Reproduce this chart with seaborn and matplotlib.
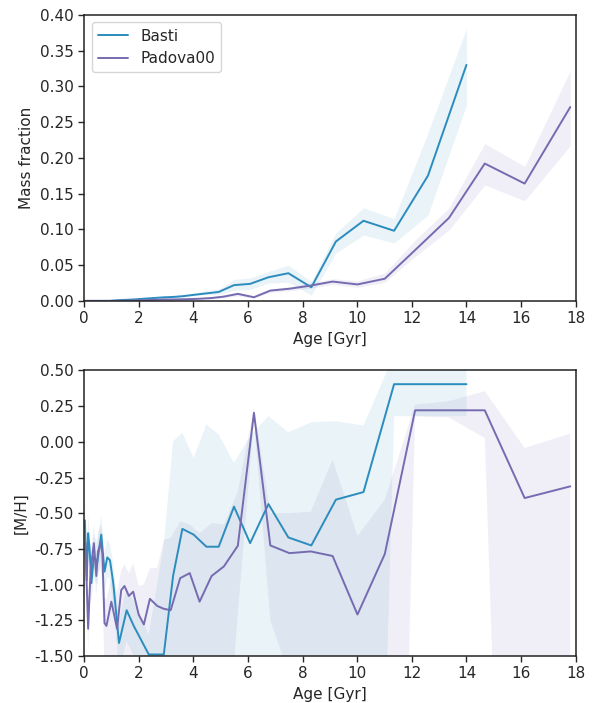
import numpy as np
import pandas as pd
import seaborn as sns
import matplotlib
matplotlib.use("Agg")
import matplotlib.pyplot as plt

sns.set_theme(style="ticks")
plt.rcParams['font.family'] = ['DejaVu Sans']

# ---- Basti: ages [Gyr], mass fraction and [M/H] with their bands
basti_age = [0.03, 0.10, 0.15, 0.20, 0.27, 0.36, 0.48, 0.63, 0.75, 0.85, 0.95, 1.07,
             1.28, 1.56, 1.82, 2.37, 2.92, 3.26, 3.60, 4.01, 4.48, 4.93, 5.49, 6.08,
             6.75, 7.48, 8.32, 9.22, 10.23, 11.35, 12.59, 14.00]
basti_mass = [0, 0, 0, 0, 0, 0, 0, 0, 0, 0, 0, 0.0005,
              0.001, 0.0015, 0.002, 0.0035, 0.005, 0.0055, 0.0065, 0.0084, 0.0105, 0.0125, 0.022, 0.0238,
              0.033, 0.0387, 0.019, 0.083, 0.112, 0.098, 0.175, 0.330]
basti_mass_hi = [0, 0, 0, 0, 0, 0, 0, 0, 0, 0, 0, 0.001,
                 0.0015, 0.002, 0.003, 0.0045, 0.0065, 0.0075, 0.0085, 0.011, 0.014, 0.016, 0.030, 0.032,
                 0.041, 0.050, 0.027, 0.095, 0.130, 0.115, 0.235, 0.381]
basti_mass_lo = [0, 0, 0, 0, 0, 0, 0, 0, 0, 0, 0, 0,
                 0.0005, 0.001, 0.0015, 0.003, 0.0045, 0.005, 0.0055, 0.007, 0.009, 0.009, 0.015, 0.016,
                 0.025, 0.026, 0.008, 0.067, 0.092, 0.081, 0.120, 0.274]
basti_mh = [-0.55, -0.97, -0.64, -0.74, -0.99, -0.80, -0.85, -0.65, -0.91, -0.81, -0.83, -0.99,
            -1.41, -1.18, -1.29, -1.49, -1.49, -0.94, -0.61, -0.65, -0.735, -0.735, -0.454, -0.71,
            -0.436, -0.67, -0.726, -0.405, -0.352, 0.404, 0.404, 0.404]
basti_mh_hi = [-0.38, -0.85, -0.52, -0.62, -0.86, -0.66, -0.70, -0.52, -0.78, -0.68, -0.72, -0.85,
               -1.25, -1.02, -1.12, -1.35, -0.72, 0.004, 0.063, -0.113, 0.121, 0.051, -0.148, 0.039,
               0.18, 0.067, 0.137, 0.144, 0.114, 0.61, 0.61, 0.61]
basti_mh_lo = [-0.80, -1.10, -0.78, -0.88, -1.12, -0.95, -1.00, -0.80, -1.05, -0.95, -0.96, -1.15,
               -1.60, -1.40, -1.50, -1.65, -1.70, -2.2, -2.2, -2.2, -2.2, -2.2, -2.2, -2.2,
               -2.2, -2.2, -2.2, -2.5, -7.5, 0.18, 0.18, 0.18]

# ---- Padova00
padova_age = [0.05, 0.15, 0.24, 0.36, 0.45, 0.51, 0.61, 0.67, 0.75, 0.82, 1.00, 1.21,
              1.36, 1.48, 1.64, 1.80, 2.00, 2.19, 2.41, 2.68, 2.92, 3.17, 3.52, 3.87,
              4.23, 4.67, 5.12, 5.63, 6.22, 6.82, 7.52, 8.30, 9.10, 10.01, 11.01, 12.12,
              13.36, 14.67, 16.13, 17.80]
padova_mass = [0, 0, 0, 0, 0, 0, 0, 0, 0, 0, 0, 0,
               0.0003, 0.0003, 0.0005, 0.0005, 0.0008, 0.001, 0.0012, 0.0015, 0.002, 0.002, 0.0022, 0.0025,
               0.003, 0.004, 0.006, 0.0098, 0.0051, 0.0144, 0.017, 0.0214, 0.027, 0.023, 0.031, 0.071,
               0.116, 0.192, 0.164, 0.271]
padova_mass_hi = [0, 0, 0, 0, 0, 0, 0, 0, 0, 0, 0, 0,
                  0.0006, 0.0006, 0.0008, 0.0008, 0.0012, 0.0015, 0.0018, 0.002, 0.003, 0.003, 0.0032, 0.0035,
                  0.0045, 0.006, 0.008, 0.012, 0.007, 0.017, 0.020, 0.025, 0.031, 0.028, 0.039, 0.085,
                  0.130, 0.220, 0.188, 0.322]
padova_mass_lo = [0, 0, 0, 0, 0, 0, 0, 0, 0, 0, 0, 0,
                  0, 0, 0.0002, 0.0002, 0.0004, 0.0006, 0.0007, 0.001, 0.0012, 0.0012, 0.0013, 0.0015,
                  0.002, 0.0025, 0.004, 0.007, 0.004, 0.012, 0.014, 0.018, 0.023, 0.019, 0.026, 0.062,
                  0.099, 0.162, 0.140, 0.217]
padova_mh = [-0.71, -1.31, -0.90, -0.71, -0.94, -0.77, -0.71, -0.78, -1.27, -1.29, -1.12, -1.31,
             -1.04, -1.01, -1.08, -1.05, -1.21, -1.28, -1.10, -1.15, -1.17, -1.18, -0.955, -0.92,
             -1.12, -0.94, -0.873, -0.728, 0.203, -0.726, -0.78, -0.768, -0.80, -1.21, -0.786, 0.221,
             0.221, 0.221, -0.394, -0.312]
padova_mh_hi = [-0.58, -1.18, -0.78, -0.58, -0.80, -0.64, -0.58, -0.64, -1.10, -1.10, -0.95, -1.05,
                -0.90, -0.86, -0.92, -0.85, -1.01, -1.00, -0.885, -0.885, -0.686, -0.674, -0.557, -0.58,
                -0.64, -0.57, -0.58, -0.35, 0.24, -0.50, -0.50, -0.49, -0.125, -0.66, -0.405, 0.26,
                0.285, 0.355, -0.043, 0.058]
padova_mh_lo = [-0.85, -1.45, -1.05, -0.85, -1.08, -0.92, -0.88, -1.00, -1.60, -1.70, -1.80, -2.0,
                -2.0, -2.0, -2.0, -2.0, -2.0, -2.0, -2.0, -2.0, -2.0, -2.0, -2.0, -2.0,
                -2.0, -2.2, -2.48, -1.2, 0.16, -1.25, -1.64, -2.0, -2.0, -3.0, -8.2, 0.18,
                0.17, 0.027, -8.2, -8.2]

colors = {"Basti": "#2b8cbe", "Padova00": "#756bb1"}

basti = pd.DataFrame({"age": basti_age, "mass": basti_mass, "mass_lo": basti_mass_lo,
                      "mass_hi": basti_mass_hi, "mh": basti_mh, "mh_lo": basti_mh_lo,
                      "mh_hi": basti_mh_hi, "model": "Basti"})
padova = pd.DataFrame({"age": padova_age, "mass": padova_mass, "mass_lo": padova_mass_lo,
                       "mass_hi": padova_mass_hi, "mh": padova_mh, "mh_lo": padova_mh_lo,
                       "mh_hi": padova_mh_hi, "model": "Padova00"})
df = pd.concat([basti, padova], ignore_index=True)

fig = plt.figure(figsize=(5.96, 7.03), dpi=100)
ax1 = fig.add_axes([0.141, 0.572, 0.825, 0.407])
ax2 = fig.add_axes([0.141, 0.067, 0.825, 0.406])

for name, sub in df.groupby("model", sort=False):
    ax1.fill_between(sub["age"], sub["mass_lo"], sub["mass_hi"], color=colors[name],
                     alpha=0.1, linewidth=0)
    ax2.fill_between(sub["age"], sub["mh_lo"], sub["mh_hi"], color=colors[name],
                     alpha=0.1, linewidth=0)

sns.lineplot(data=df, x="age", y="mass", hue="model", palette=colors, ax=ax1,
             linewidth=1.4, estimator=None)
sns.lineplot(data=df, x="age", y="mh", hue="model", palette=colors, ax=ax2,
             linewidth=1.4, estimator=None, legend=False)

ax1.set_xlim(0, 18)
ax1.set_ylim(0, 0.40)
ax1.set_xticks(np.arange(0, 19, 2))
ax1.set_yticks(np.arange(0, 0.41, 0.05))
ax1.set_xlabel("Age [Gyr]", fontsize=11)
ax1.set_ylabel("Mass fraction", fontsize=11)
ax1.legend(loc="upper left", fontsize=11, title=None, frameon=True)

ax2.set_xlim(0, 18)
ax2.set_ylim(-1.5, 0.5)
ax2.set_xticks(np.arange(0, 19, 2))
ax2.set_yticks(np.arange(-1.5, 0.51, 0.25))
ax2.set_xlabel("Age [Gyr]", fontsize=11)
ax2.set_ylabel("[M/H]", fontsize=11)

for ax in (ax1, ax2):
    ax.tick_params(labelsize=11, length=4, width=1, direction="out")
    for s in ax.spines.values():
        s.set_color("#222222")
        s.set_linewidth(1.1)
    ax.yaxis.set_major_formatter(matplotlib.ticker.FormatStrFormatter("%.2f"))

fig.savefig("out.png", dpi=100)
